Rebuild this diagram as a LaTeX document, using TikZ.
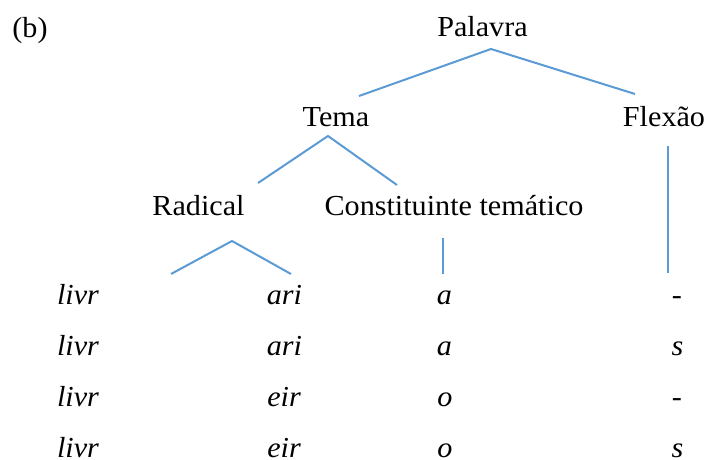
\documentclass[tikz,border=0pt]{standalone}
\usepackage{fontspec}
\setmainfont{Liberation Serif}[FakeStretch=1.04]
\definecolor{treeblue}{HTML}{5B9BD5}
\begin{document}
\begin{tikzpicture}[x=1pt,y=-1pt,
  lbl/.style={anchor=base, inner sep=0pt, font=\fontsize{29}{34}\selectfont},
  itl/.style={anchor=base, inner sep=0pt, font=\fontsize{29}{34}\selectfont\itshape},
  branch/.style={draw=treeblue, line width=2pt},
  stem/.style={draw=treeblue, line width=1.3pt}]
\useasboundingbox (0,0) rectangle (705,460);
% labels
\node[lbl] (b) at (30,38) {(b)};
\node[lbl] (palavra) at (482.5,37) {Palavra};
\node[lbl] (tema) at (336,126) {Tema};
\node[lbl] (flexao) at (664,126) {Flexão};
\node[lbl] (radical) at (198.5,215) {Radical};
\node[lbl] (const) at (454,215) {Constituinte temático};
% rows
\node[itl] (l1) at (78,304) {livr};
\node[itl] (r1) at (284.5,304) {ari};
\node[itl] (v1) at (444.5,304) {a};
\node[itl] (f1) at (677,304) {-};
\node[itl] (l2) at (78,355) {livr};
\node[itl] (r2) at (284.5,355) {ari};
\node[itl] (v2) at (444.5,355) {a};
\node[itl] (f2) at (677.5,355) {s};
\node[itl] (l3) at (78,406) {livr};
\node[itl] (r3) at (284,406) {eir};
\node[itl] (v3) at (445,406) {o};
\node[itl] (f3) at (677,406) {-};
\node[itl] (l4) at (78,457) {livr};
\node[itl] (r4) at (284,457) {eir};
\node[itl] (v4) at (445,457) {o};
\node[itl] (f4) at (677.5,457) {s};
% branch points
\coordinate (pA) at (491,49);
\coordinate (pL) at (359,96);
\coordinate (pR) at (635,94);
\coordinate (tA) at (328,136);
\coordinate (tL) at (258,183);
\coordinate (tR) at (397,185);
\coordinate (rA) at (232,241);
\coordinate (rL) at (171,274);
\coordinate (rR) at (291,274);
\coordinate (cT) at (443,238);
\coordinate (cB) at (443,274);
\coordinate (fT) at (668,146);
\coordinate (fB) at (668,273);
% connectors
\draw[branch] (pL) -- (pA) -- (pR);
\draw[branch] (tL) -- (tA) -- (tR);
\draw[branch] (rL) -- (rA) -- (rR);
\draw[stem] (cT) -- (cB);
\draw[stem] (fT) -- (fB);
\end{tikzpicture}
\end{document}
